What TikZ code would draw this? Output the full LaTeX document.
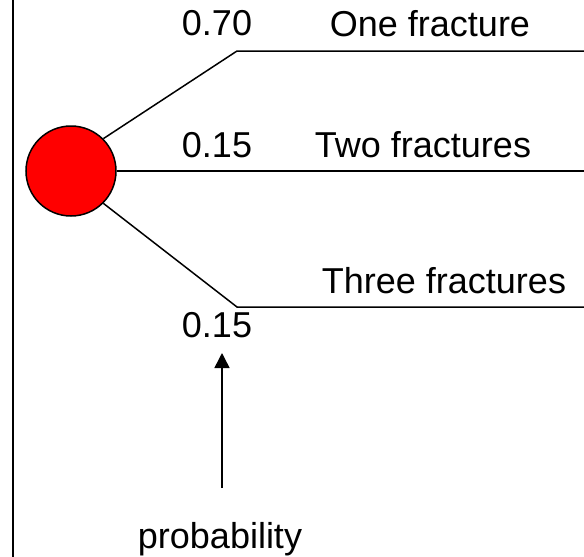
\documentclass[tikz,border=0pt]{standalone}
\usepackage{fontspec}
\setmainfont{Liberation Sans}
\usetikzlibrary{arrows.meta}
\tikzset{
  lbl/.style={anchor=base, inner sep=0pt, font=\fontsize{36}{43}\selectfont},
  branch/.style={draw=black, line width=1.5pt},
  chance/.style={circle, draw=black, line width=1.5pt, fill=red, minimum size=90pt, inner sep=0pt}
}
\begin{document}
\begin{tikzpicture}[x=1pt, y=-1pt]
\useasboundingbox (0,0) rectangle (584,557);
% left border line
\coordinate (bt) at (13,0);
\coordinate (bb) at (13,557);
\draw[line width=2pt] (bt) -- (bb);
% chance node
\node[chance] (c) at (71,171) {};
% branch points
\coordinate (k1) at (237,51);
\coordinate (e1) at (584,51);
\coordinate (e2) at (584,171);
\coordinate (k3) at (237,307);
\coordinate (e3) at (584,307);
\draw[branch] (c.45) -- (k1) -- (e1);
\draw[branch] (c.east) -- (e2);
\draw[branch] (c.-45) -- (k3) -- (e3);
% labels
\node[lbl] (p1) at (217,35) {0.70};
\node[lbl] (o1) at (430,36) {One fracture};
\node[lbl] (p2) at (217,157) {0.15};
\node[lbl] (o2) at (423,157) {Two fractures};
\node[lbl] (o3) at (444,293) {Three fractures};
\node[lbl] (p3) at (217,337) {0.15};
\node[lbl] (pr) at (220,548) {probability};
% arrow
\coordinate (ab) at (222,488);
\coordinate (at) at (222,353);
\draw[line width=1.5pt, -{Triangle[width=15pt,length=15pt]}] (ab) -- (at);
\end{tikzpicture}
\end{document}
